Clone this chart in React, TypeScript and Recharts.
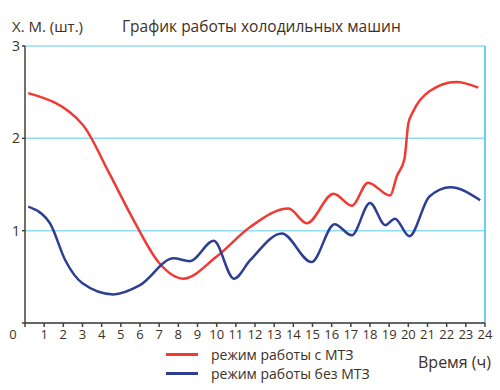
import React from 'react';
import { LineChart, Line, XAxis, YAxis, CartesianGrid, ReferenceLine } from 'recharts';

// hours (x) and machine counts (y)
const withMtzHours = [0.17, 3.0, 4.4, 5.65, 7.0, 8.25, 10.0, 11.75, 13.75, 14.7, 16.1, 17.05, 17.9, 19.05, 19.4, 19.8, 20.0, 20.25, 21.1, 22.5, 23.65];
const withMtzValues = [2.49, 2.15, 1.62, 1.12, 0.65, 0.48, 0.72, 1.04, 1.24, 1.08, 1.4, 1.27, 1.52, 1.38, 1.59, 1.78, 2.16, 2.29, 2.51, 2.61, 2.55];

const noMtzHours = [0.17, 1.3, 2.1, 3.0, 4.6, 6.0, 7.75, 8.6, 9.85, 10.9, 11.75, 13.4, 14.95, 16.15, 17.05, 18.0, 18.8, 19.3, 20.05, 21.1, 22.2, 23.75];
const noMtzValues = [1.26, 1.08, 0.68, 0.43, 0.31, 0.41, 0.7, 0.67, 0.89, 0.48, 0.68, 0.97, 0.66, 1.07, 0.95, 1.3, 1.06, 1.13, 0.94, 1.37, 1.47, 1.33];

const hourTicks = Array.from({ length: 25 }, (_, i) => i);
const countTicks = [0, 1, 2, 3];

const withMtz = withMtzHours.map((h, i) => ({ h, v: withMtzValues[i] }));
const noMtz = noMtzHours.map((h, i) => ({ h, v: noMtzValues[i] }));

const TEXT = '#3d3025';
const AXIS = '#4a3f33';
const RED = '#f03a33';
const BLUE = '#2e3f93';
const FONT = '"Open Sans", "Noto Sans", sans-serif';

// eslint-disable-next-line @typescript-eslint/no-explicit-any
const HourTick = (props: any) => {
  const { x, y, payload } = props;
  const dx = payload.value === 0 ? -12 : 0;
  return (
    <text x={x + dx} y={y + 10} textAnchor="middle" fill={TEXT} fontSize={13} fontFamily={FONT}>
      {payload.value}
    </text>
  );
};

// eslint-disable-next-line @typescript-eslint/no-explicit-any
const CountTick = (props: any) => {
  const { x, y, payload } = props;
  if (payload.value === 0) return null;
  return (
    <text x={x} y={y + 5} textAnchor="end" fill={TEXT} fontSize={14} fontFamily={FONT}>
      {payload.value}
    </text>
  );
};

export default function App() {
  return (
    <div style={{ position: 'absolute', left: 0, top: 0, width: 500, height: 390, background: '#fff', fontFamily: FONT, color: TEXT }}>
      <LineChart width={500} height={390} margin={{ top: 46, right: 15, left: 0, bottom: 47 }}>
        <CartesianGrid vertical={false} stroke="#8fdcf4" strokeWidth={1.5} />
        <XAxis
          type="number"
          dataKey="h"
          domain={[0, 24]}
          ticks={hourTicks}
          interval={0}
          stroke={AXIS}
          strokeWidth={1.5}
          tickSize={4}
          height={20}
          tick={<HourTick />}
        />
        <YAxis
          type="number"
          dataKey="v"
          domain={[0, 3]}
          ticks={countTicks}
          stroke={AXIS}
          strokeWidth={1.5}
          tickSize={3}
          width={25}
          tick={<CountTick />}
        />
        <ReferenceLine x={24} stroke="#3bbfee" strokeWidth={1.5} />
        <Line data={withMtz} dataKey="v" type="monotone" stroke={RED} strokeWidth={2.5} dot={false} isAnimationActive={false} />
        <Line data={noMtz} dataKey="v" type="monotone" stroke={BLUE} strokeWidth={2.5} dot={false} isAnimationActive={false} />
      </LineChart>

      <div style={{ position: 'absolute', left: 122, top: 16, fontSize: 15.5, whiteSpace: 'nowrap', lineHeight: '20px' }}>
        График работы холодильных машин
      </div>
      <div style={{ position: 'absolute', left: 12, top: 17, fontSize: 15, whiteSpace: 'nowrap', lineHeight: '18px' }}>
        Х. М. (шт.)
      </div>
      <div style={{ position: 'absolute', left: 418, top: 351, fontSize: 16, whiteSpace: 'nowrap', lineHeight: '22px' }}>
        Время (ч)
      </div>
      <div style={{ position: 'absolute', left: 166, top: 345, fontSize: 14, lineHeight: '19px' }}>
        <div style={{ display: 'flex', alignItems: 'center', height: 19 }}>
          <span style={{ display: 'inline-block', width: 32, height: 3, background: RED, marginRight: 13 }} />
          <span>режим работы с МТЗ</span>
        </div>
        <div style={{ display: 'flex', alignItems: 'center', height: 19 }}>
          <span style={{ display: 'inline-block', width: 32, height: 3, background: BLUE, marginRight: 13 }} />
          <span>режим работы без МТЗ</span>
        </div>
      </div>
    </div>
  );
}
